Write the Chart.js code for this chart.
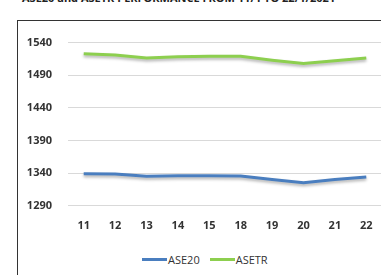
<!DOCTYPE html>
<html>
<head>
<meta charset="utf-8">
<script src="https://cdn.jsdelivr.net/npm/chart.js@4/dist/chart.umd.min.js"></script>
<style>
  html,body{margin:0;padding:0;background:#fff;overflow:hidden;width:381px;height:275px;position:relative;font-family:"Open Sans",sans-serif;}
  #title{position:absolute;left:22px;top:-10px;font-size:11px;font-weight:bold;color:#222;white-space:nowrap;}
  #frame{position:absolute;left:17px;top:20px;width:400px;height:300px;border-left:1px solid #333;border-top:1px solid #333;}
  #wrap{position:absolute;left:17px;top:20px;width:380px;height:220px;}
  #legend{position:absolute;top:252px;left:142px;font-size:11px;color:#333;display:flex;align-items:center;}
  #legend span.ln{display:inline-block;width:25px;height:3px;margin-right:1px;}
  #legend span.tx{margin-right:10px;}
</style>
</head>
<body>
<div id="title">ASE20 and ASETR PERFORMANCE FROM 11/1 TO 22/1/2021</div>
<div id="frame"></div>
<div id="wrap"><canvas id="chart" width="380" height="220"></canvas></div>
<div id="legend"></div>
<script>
const days=['11','12','13','14','15','18','19','20','21','22'];
const ase20=[1339,1338.5,1335,1336,1336,1335.5,1330,1325,1330,1334];
const asetr=[1523,1521,1516.5,1518.5,1519,1519,1513,1508,1512,1516.5];
const seriesNames=['ASE20','ASETR'];
const colors=['#4a7ebf','#8dcf4f'];

const shadow={
  id:'shadow',
  beforeDatasetsDraw(chart){
    const c=chart.ctx;
    c.save();
    c.shadowColor='rgba(0,0,0,0.3)';
    c.shadowBlur=3;
    c.shadowOffsetY=2;
  },
  afterDatasetsDraw(chart){
    chart.ctx.restore();
  }
};

const tickFont={family:'"Open Sans", sans-serif',size:11,weight:'bold'};

new Chart(document.querySelector('#chart'),{
  type:'line',
  data:{
    labels:days,
    datasets:[
      {label:seriesNames[0],data:ase20,borderColor:colors[0],backgroundColor:colors[0],borderWidth:3,pointRadius:0,tension:0},
      {label:seriesNames[1],data:asetr,borderColor:colors[1],backgroundColor:colors[1],borderWidth:3,pointRadius:0,tension:0}
    ]
  },
  options:{
    responsive:false,
    maintainAspectRatio:false,
    animation:false,
    layout:{padding:{top:15.7,right:15,bottom:4.3,left:0}},
    plugins:{legend:{display:false},tooltip:{enabled:false}},
    scales:{
      x:{
        offset:true,
        grid:{display:false,drawTicks:false},
        border:{display:false},
        ticks:{font:tickFont,color:'#333',padding:14,maxRotation:0},
        afterFit(s){s.height=30;}
      },
      y:{
        min:1290,max:1540,
        grid:{color:'#d9d9d9',lineWidth:1,drawTicks:false},
        border:{display:false},
        ticks:{stepSize:50,font:tickFont,color:'#333',padding:16,callback:(v)=>String(v)},
        afterFit(s){s.width=51;}
      }
    }
  },
  plugins:[shadow]
});

const lg=document.getElementById('legend');
seriesNames.forEach((n,i)=>{
  lg.innerHTML+='<span class="ln" style="background:'+colors[i]+'"></span><span class="tx">'+n+'</span>';
});
</script>
</body>
</html>
